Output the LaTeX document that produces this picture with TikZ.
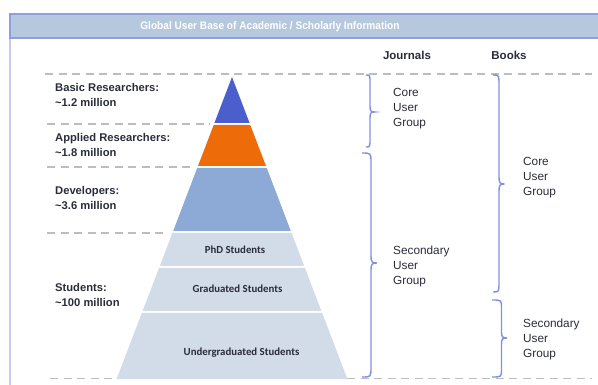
\documentclass[tikz,border=0pt]{standalone}
\usepackage{fontspec}
\setmainfont{Liberation Sans}
\newfontfamily\narrowfont[FakeStretch=0.92]{Liberation Sans}
\newfontfamily\calfont{Carlito}
\definecolor{hdr}{HTML}{B6C8DD}
\definecolor{framec}{HTML}{8E9EE0}
\definecolor{framel}{HTML}{C5CBF0}
\definecolor{dashc}{HTML}{BDBDBD}
\definecolor{txt}{HTML}{2A2C3A}
\definecolor{layA}{HTML}{4A5FCB}
\definecolor{layB}{HTML}{EE6B0A}
\definecolor{layC}{HTML}{8DAAD6}
\definecolor{layD}{HTML}{D2DCE8}
\definecolor{brc}{HTML}{7F90E0}
\newcommand\curlybrace[9]{% x0 xs xt y1 ym y2 r r2 name
  \draw[bracestyle] (#1,#4) .. controls (#2,#4) and (#2,#4) .. (#2,#4+#7)
    -- (#2,#5-#8) .. controls (#2,#5-1) and (#2+1,#5) .. (#3,#5)
    .. controls (#2+1,#5) and (#2,#5+1) .. (#2,#5+#8)
    -- (#2,#6-#7) .. controls (#2,#6) and (#2,#6) .. (#1,#6);
  \coordinate (#9) at (#3,#5);}
\begin{document}
\begin{tikzpicture}[x=1pt,y=-1pt,
  dashline/.style={draw=dashc,line width=1.6pt,dash pattern=on 8pt off 5.5pt},
  bracestyle/.style={draw=brc,line width=1.4pt},
  leftlab/.style={anchor=north west,inner sep=0pt,align=left,text=txt,font=\bfseries\fontsize{11.2}{15}\selectfont},
  grplab/.style={anchor=north west,inner sep=0pt,align=left,text=txt,font=\fontsize{11.8}{15}\selectfont},
  collab/.style={anchor=base,inner sep=0pt,text=txt,font=\bfseries\fontsize{11.5}{13}\selectfont},
  innerlab/.style={inner sep=0pt,text=txt,font=\calfont\bfseries\fontsize{10.8}{13}\selectfont},
  layer/.style={draw=none}]
\useasboundingbox (0,0) rectangle (598,385);
% frame
\draw[framel,line width=2.5pt] (10,38) -- (10,386);
\draw[framec,line width=2pt,fill=hdr] (9.5,14) rectangle (600,38.5);
\node[inner sep=0pt,text=white,font=\narrowfont\bfseries\fontsize{11}{13}\selectfont] (title) at (270,26.5) {Global User Base of Academic / Scholarly Information};
% dashed lines
\draw[dashline] (45,74) -- (592,74);
\draw[dashline] (47,124) -- (210,124);
\draw[dashline] (47,167) -- (194,167);
\draw[dashline] (47,233) -- (168,233);
\draw[dashline] (50,378.5) -- (592,378.5);
% pyramid layers
\coordinate (apex) at (232,77);
\fill[layA] (apex) -- (249.6,123) -- (214.4,123) -- cycle;
\fill[layB] (213.7,125) -- (250.3,125) -- (266.0,166) -- (198.0,166) -- cycle;
\fill[layC] (197.2,168) -- (266.8,168) -- (290.8,231) -- (173.2,231) -- cycle;
\fill[layD] (172.4,233) -- (291.6,233) -- (304.2,266) -- (159.8,266) -- cycle;
\fill[layD] (159.0,268) -- (305.0,268) -- (321.4,311) -- (142.6,311) -- cycle;
\fill[layD] (141.8,313) -- (322.2,313) -- (347.4,379) -- (116.6,379) -- cycle;
\node[innerlab] (phd) at (235,249.5) {PhD Students};
\node[innerlab] (grad) at (237.5,288.5) {Graduated Students};
\node[innerlab] (under) at (241.5,352.5) {Undergraduated Students};
% left labels
\node[leftlab] (basic) at (55,83.5) {Basic Researchers:\\\textasciitilde1.2 million};
\node[leftlab] (applied) at (55,133.5) {Applied Researchers:\\\textasciitilde1.8 million};
\node[leftlab] (dev) at (55,186.5) {Developers:\\\textasciitilde3.6 million};
\node[leftlab] (stud) at (55,283.5) {Students:\\\textasciitilde100 million};
% column headers
\node[collab] (journals) at (407,60) {Journals};
\node[collab] (books) at (509,60) {Books};
% braces
\curlybrace{366}{370}{374.5}{75}{112}{147}{8}{6}{jb1}
\curlybrace{362}{371}{377}{153}{263}{377}{10}{7}{jb2}
\curlybrace{493}{499}{504.5}{75}{184}{292}{10}{7}{bb1}
\curlybrace{492}{501.5}{507}{300}{338}{377}{8}{6}{bb2}
\node[grplab] (jcore) at (393,88) {Core\\User\\Group};
\node[grplab] (jsec) at (393,246) {Secondary\\User\\Group};
\node[grplab] (bcore) at (523,157.5) {Core\\User\\Group};
\node[grplab] (bsec) at (523,319) {Secondary\\User\\Group};
\end{tikzpicture}
\end{document}
